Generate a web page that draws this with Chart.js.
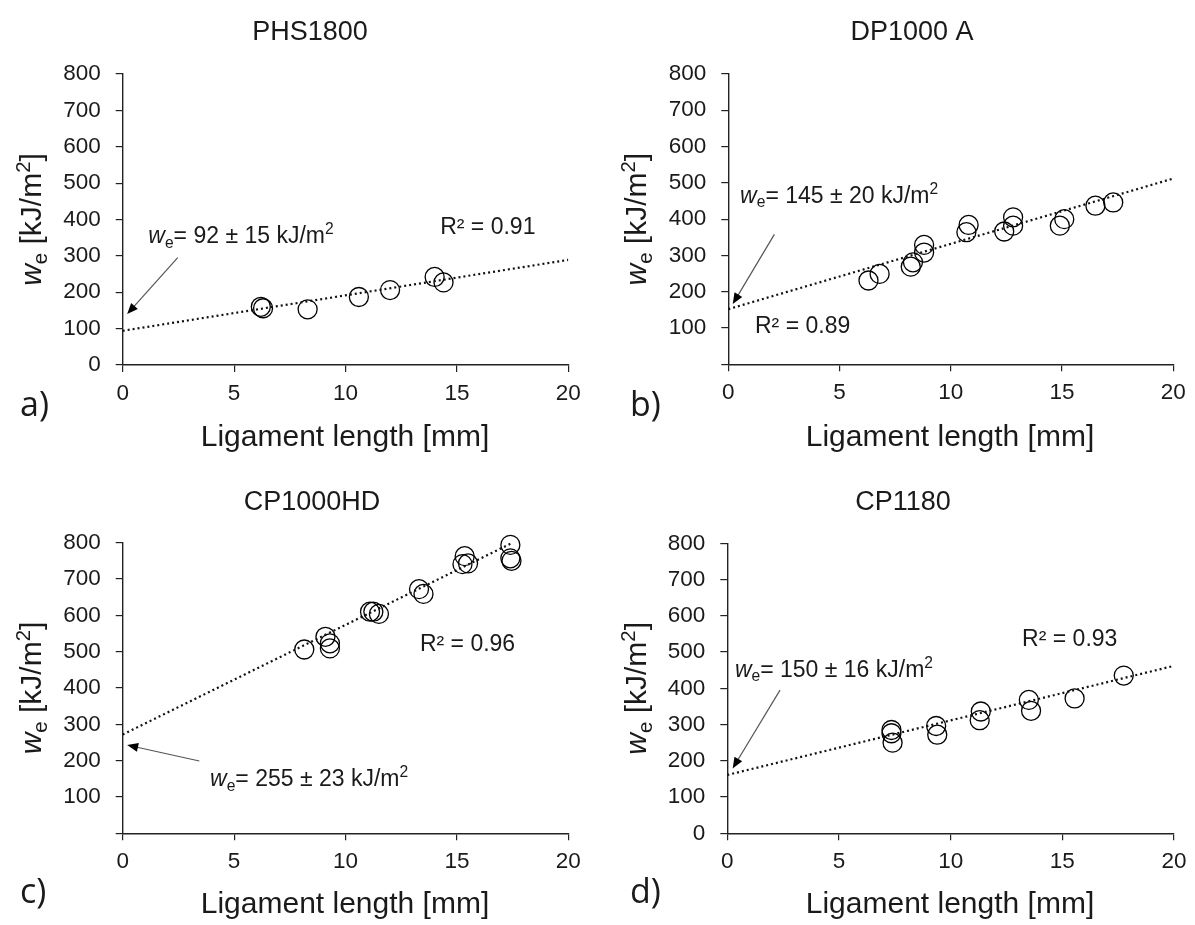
<!DOCTYPE html>
<html>
<head>
<meta charset="utf-8">
<script src="https://cdn.jsdelivr.net/npm/chart.js@4.4.1/dist/chart.umd.min.js"></script>
<style>
body { margin: 0; background: #fff; width: 1195px; height: 925px; overflow: hidden; position: relative; }
.panel { position: absolute; }
</style>
</head>
<body>
<div class="panel" style="left:0;top:0;width:600px;height:462px"><canvas id="ca"></canvas></div>
<div class="panel" style="left:600px;top:0;width:595px;height:462px"><canvas id="cb"></canvas></div>
<div class="panel" style="left:0;top:462px;width:600px;height:463px"><canvas id="cc"></canvas></div>
<div class="panel" style="left:600px;top:462px;width:595px;height:463px"><canvas id="cd"></canvas></div>
<script>
// values
var xTicks = [0, 5, 10, 15, 20];
var yTicks = [0, 100, 200, 300, 400, 500, 600, 700, 800];

var phsX = [6.2, 6.3, 8.3, 10.6, 12.0, 14.0, 14.4];
var phsY = [160, 156, 153, 187, 206, 242, 227];
var phsTrendX = [0, 20];
var phsTrendY = [94, 289];

var dpX = [6.3, 6.8, 8.2, 8.3, 8.8, 8.8, 10.7, 10.8, 12.4, 12.8, 12.8, 14.9, 15.1, 16.5, 17.3];
var dpY = [231, 249, 269, 281, 308, 329, 364, 384, 366, 382, 405, 382, 400, 437, 446];
var dpTrendX = [0, 20];
var dpTrendY = [152, 512];

var cpX = [8.15, 9.1, 9.3, 9.3, 11.1, 11.25, 11.5, 13.3, 13.5, 15.35, 15.25, 15.5, 17.4, 17.4, 17.45];
var cpY = [506, 541, 523, 509, 610, 610, 604, 672, 659, 763, 741, 743, 794, 757, 750];
var cpTrendX = [0, 17.5];
var cpTrendY = [272, 800];

var cp1180X = [7.35, 7.35, 7.4, 9.35, 9.4, 11.35, 11.3, 13.5, 13.6, 15.55, 17.75];
var cp1180Y = [285, 276, 250, 296, 272, 336, 312, 368, 338, 372, 435];
var cp1180TrendX = [0, 20];
var cp1180TrendY = [161, 462];

function pts(xs, ys) {
	var out = [];
	for (var i in xs) out.push({x: xs[i], y: ys[i]});
	return out;
}

var SANS = '"Liberation Sans", Arial, sans-serif';

// text made of parts (italic, subscript, superscript)
function richWidth(ctx, parts, size) {
	var w = 0;
	parts.forEach(function(p) {
		var s = (p.sub || p.sup) ? size * 0.68 : size;
		ctx.font = (p.it ? 'italic ' : '') + s + 'px ' + SANS;
		w += ctx.measureText(p.t).width;
	});
	return w;
}
function drawRich(ctx, x, y, parts, size) {
	ctx.textBaseline = 'middle';
	ctx.textAlign = 'left';
	parts.forEach(function(p) {
		var s = (p.sub || p.sup) ? size * 0.68 : size;
		var dy = p.sub ? size * 0.28 : (p.sup ? -size * 0.3 : 0);
		ctx.font = (p.it ? 'italic ' : '') + s + 'px ' + SANS;
		ctx.fillText(p.t, x, y + dy);
		x += ctx.measureText(p.t).width;
	});
}

var yTitle = [{t: 'w', it: true}, {t: 'e', sub: true}, {t: ' [kJ/m'}, {t: '2', sup: true}, {t: ']'}];
function weText(v) {
	return [{t: 'w', it: true}, {t: 'e', sub: true}, {t: '= ' + v + ' kJ/m'}, {t: '2', sup: true}];
}

var textPlugin = {
	id: 'texts',
	afterDraw: function(chart) {
		var o = chart.options.plugins.texts;
		var ctx = chart.ctx;
		var xs = chart.scales.x, ys = chart.scales.y;
		ctx.save();
		ctx.fillStyle = '#1a1a1a';
		// title
		ctx.font = '27px ' + SANS;
		ctx.textAlign = 'center';
		ctx.textBaseline = 'middle';
		ctx.fillText(o.title, o.titleX - o.left, o.titleY - o.top);
		// x axis title
		ctx.font = '30px ' + SANS;
		ctx.fillText('Ligament length [mm]', o.xtX - o.left, o.xtY - o.top);
		// panel letter
		ctx.font = '34px "Open Sans", sans-serif';
		ctx.textAlign = 'left';
		ctx.fillText(o.letter, o.letX - o.left, o.letY - o.top);
		// y axis title
		ctx.save();
		ctx.translate(o.ytX - o.left, (chart.chartArea.top + chart.chartArea.bottom) / 2);
		ctx.rotate(-Math.PI / 2);
		var w = richWidth(ctx, yTitle, 30);
		drawRich(ctx, -w / 2, 0, yTitle, 30);
		ctx.restore();
		// annotations
		drawRich(ctx, xs.getPixelForValue(o.weAt[0]), ys.getPixelForValue(o.weAt[1]), weText(o.we), 23);
		ctx.font = '23px ' + SANS;
		ctx.textAlign = 'left';
		ctx.fillText(o.r2, xs.getPixelForValue(o.r2At[0]), ys.getPixelForValue(o.r2At[1]));
		// arrow
		var x1 = xs.getPixelForValue(o.arrow[0]), y1 = ys.getPixelForValue(o.arrow[1]);
		var x2 = xs.getPixelForValue(o.arrow[2]), y2 = ys.getPixelForValue(o.arrow[3]);
		var a = Math.atan2(y2 - y1, x2 - x1);
		ctx.strokeStyle = '#555';
		ctx.lineWidth = 1.2;
		ctx.beginPath();
		ctx.moveTo(x1, y1);
		ctx.lineTo(x2 - 9 * Math.cos(a), y2 - 9 * Math.sin(a));
		ctx.stroke();
		ctx.fillStyle = '#000';
		ctx.beginPath();
		ctx.moveTo(x2, y2);
		ctx.lineTo(x2 - 11 * Math.cos(a) + 4.5 * Math.sin(a), y2 - 11 * Math.sin(a) - 4.5 * Math.cos(a));
		ctx.lineTo(x2 - 11 * Math.cos(a) - 4.5 * Math.sin(a), y2 - 11 * Math.sin(a) + 4.5 * Math.cos(a));
		ctx.closePath();
		ctx.fill();
		ctx.restore();
	}
};

function makeChart(id, p) {
	new Chart(document.getElementById(id), {
		type: 'scatter',
		data: {
			datasets: [
				{
					type: 'line',
					data: pts(p.tx, p.ty),
					borderColor: '#111',
					borderWidth: 2.2,
					borderDash: [2, 3],
					pointRadius: 0,
					fill: false
				},
				{
					data: pts(p.x, p.y),
					pointRadius: 9.5,
					pointBorderWidth: 1.3,
					borderColor: '#000',
					backgroundColor: 'rgba(0,0,0,0)',
					clip: false
				}
			]
		},
		options: {
			responsive: true,
			maintainAspectRatio: false,
			animation: false,
			events: [],
			layout: {padding: {left: 0, top: p.areaTop, right: p.padRight, bottom: 0}},
			plugins: {
				legend: {display: false},
				tooltip: {enabled: false},
				texts: p.texts
			},
			scales: {
				x: {
					type: 'linear', min: 0, max: 20,
					afterBuildTicks: function(s) { s.ticks = xTicks.map(function(v) { return {value: v}; }); },
					ticks: {font: {size: 22.5, family: SANS}, color: '#1a1a1a', padding: 8},
					grid: {drawOnChartArea: false, drawTicks: true, tickLength: 7, color: '#222', lineWidth: 1.2},
					border: {color: '#222', width: 1.4},
					afterFit: function(s) { s.height = p.xH; }
				},
				y: {
					min: 0, max: 800,
					afterBuildTicks: function(s) { s.ticks = yTicks.map(function(v) { return {value: v}; }); },
					ticks: {
						font: {size: 22.5, family: SANS}, color: '#1a1a1a', padding: 15,
						callback: function(v) { return (v === 0 && p.hideZero) ? '' : v; }
					},
					grid: {drawOnChartArea: false, drawTicks: true, tickLength: 7, color: '#222', lineWidth: 1.2},
					border: {color: '#222', width: 1.4},
					afterFit: function(s) { s.width = p.yW; }
				}
			}
		},
		plugins: [textPlugin]
	});
}

makeChart('ca', {
	x: phsX, y: phsY, tx: phsTrendX, ty: phsTrendY,
	areaTop: 74, padRight: 31.7, yW: 122.7, xH: 97, hideZero: false,
	texts: {left: 0, top: 0, title: 'PHS1800', titleX: 310, titleY: 33, xtX: 345, xtY: 438, letter: 'a)', letX: 20, letY: 406, ytX: 33,
		we: '92 ± 15', weAt: [1.15, 352], r2: 'R² = 0.91', r2At: [14.25, 377], arrow: [2.47, 295, 0.2, 140]}
});
makeChart('cb', {
	x: dpX, y: dpY, tx: dpTrendX, ty: dpTrendY,
	areaTop: 74, padRight: 21.7, yW: 128.3, xH: 97.7, hideZero: true,
	texts: {left: 600, top: 0, title: 'DP1000 A', titleX: 912, titleY: 33, xtX: 950, xtY: 438, letter: 'b)', letX: 630, letY: 406, ytX: 638,
		we: '145 ± 20', weAt: [0.53, 462], r2: 'R² = 0.89', r2At: [1.2, 104], arrow: [2.07, 358, 0.2, 166]}
});
makeChart('cc', {
	x: cpX, y: cpY, tx: cpTrendX, ty: cpTrendY,
	areaTop: 80.7, padRight: 31.7, yW: 122.7, xH: 91.7, hideZero: true,
	texts: {left: 0, top: 462, title: 'CP1000HD', titleX: 312, titleY: 503, xtX: 345, xtY: 905, letter: 'c)', letX: 20, letY: 893, ytX: 33,
		we: '255 ± 23', weAt: [3.92, 147], r2: 'R² = 0.96', r2At: [13.34, 518], arrow: [3.44, 199, 0.2, 243]}
});
makeChart('cd', {
	x: cp1180X, y: cp1180Y, tx: cp1180TrendX, ty: cp1180TrendY,
	areaTop: 81.3, padRight: 21, yW: 127.3, xH: 91.7, hideZero: false,
	texts: {left: 600, top: 462, title: 'CP1180', titleX: 903, titleY: 503, xtX: 950, xtY: 905, letter: 'd)', letX: 630, letY: 893, ytX: 638,
		we: '150 ± 16', weAt: [0.34, 450], r2: 'R² = 0.93', r2At: [13.2, 533], arrow: [2.36, 395, 0.24, 179]}
});
</script>
</body>
</html>
